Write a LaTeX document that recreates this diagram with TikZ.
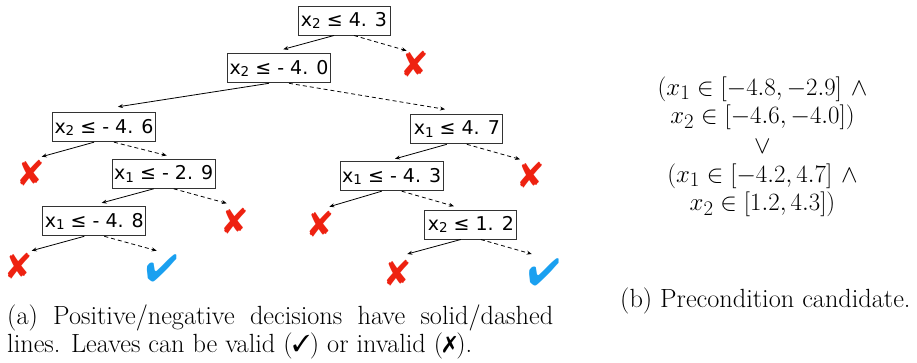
\documentclass[tikz,border=0pt]{standalone}
\usepackage{fontspec}
\usepackage{pifont}
\usetikzlibrary{calc,arrows.meta}
\newfontfamily\treefont{DejaVu Sans}
\definecolor{xred}{HTML}{EE2211}
\definecolor{cblue}{HTML}{1AA0F0}
\definecolor{boxline}{HTML}{333333}
\newcommand{\xsub}[1]{x\raisebox{-2.5pt}{\fontsize{13.5}{14}\selectfont #1}}
\newcommand{\capding}[1]{\raisebox{0.5pt}{\fontsize{23}{23}\selectfont\ding{#1}}}
\begin{document}
\begin{tikzpicture}[x=1pt,y=-1pt,
  testbox/.style={draw=boxline, line width=1pt, inner sep=0pt, minimum height=29pt,
    font=\treefont\fontsize{19}{21}\selectfont},
  shortbox/.style={testbox, minimum width=92pt},
  longbox/.style={testbox, minimum width=103pt},
  leafx/.style={inner sep=0pt, minimum width=24pt, minimum height=28pt, text=xred,
    font=\fontsize{36}{36}\selectfont},
  leafok/.style={inner sep=0pt, minimum width=30pt, minimum height=28pt, text=cblue,
    font=\fontsize{38}{38}\selectfont},
  yesedge/.style={-{Stealth[length=5pt,width=4pt]}, line width=0.8pt},
  noedge/.style={yesedge, dash pattern=on 4pt off 3pt},
  captext/.style={inner sep=0pt, font=\fontsize{26.3}{28}\selectfont},
  formtext/.style={inner sep=0pt, font=\fontsize{29.5}{30}\selectfont},
]
\useasboundingbox (0,0) rectangle (917,362);

% decision nodes
\node[shortbox] (r)   at (344,20.5)  {\xsub{2} ≤ 4. 3};
\node[longbox]  (n40) at (279,68.3)  {\xsub{2} ≤ - 4. 0};
\node[longbox]  (n46) at (104,127.2) {\xsub{2} ≤ - 4. 6};
\node[shortbox] (n47) at (456.8,129.3) {\xsub{1} ≤ 4. 7};
\node[longbox]  (n29) at (163.7,173.8) {\xsub{1} ≤ - 2. 9};
\node[longbox]  (n43) at (391.7,176.2) {\xsub{1} ≤ - 4. 3};
\node[longbox]  (n48) at (94.3,221.3) {\xsub{1} ≤ - 4. 8};
\node[shortbox] (n12) at (470.8,224.5) {\xsub{2} ≤ 1. 2};

% leaves
\node[leafx]  (lr)   at (415,64)      {\ding{56}};
\node[leafx]  (l46)  at (31,173)      {\ding{56}};
\node[leafx]  (l29)  at (235,221)     {\ding{56}};
\node[leafx]  (l48a) at (18.7,266)    {\ding{56}};
\node[leafok] (l48b) at (161.7,268)   {\ding{52}};
\node[leafx]  (l47)  at (531,174.5)   {\ding{56}};
\node[leafx]  (l43)  at (320.5,223.7) {\ding{56}};
\node[leafx]  (l12a) at (397.7,272.5) {\ding{56}};
\node[leafok] (l12b) at (544,272)     {\ding{52}};

% edges
\draw[yesedge] ($(r.south)+(-10,0)$)   -- ($(n40.north)+(4.3,-4)$);
\draw[noedge]  ($(r.south)+(10,0)$)    -- ($(lr.center)+(-8.3,-13.3)$);
\draw[yesedge] ($(n40.south)+(-10,0)$) -- ($(n46.north)+(13.9,-5.4)$);
\draw[noedge]  ($(n40.south)+(10,0)$)  -- ($(n47.north)+(-11.8,-5)$);
\draw[yesedge] ($(n46.south)+(-10,0)$) -- ($(l46.center)+(10.7,-16.3)$);
\draw[noedge]  ($(n46.south)+(10,0)$)  -- ($(n29.north)+(3,-3.3)$);
\draw[yesedge] ($(n29.south)+(-10,0)$) -- ($(n48.north)+(7.4,-3.4)$);
\draw[noedge]  ($(n29.south)+(10,0)$)  -- ($(l29.center)+(-8.3,-17.7)$);
\draw[yesedge] ($(n48.south)+(-10,0)$) -- ($(l48a.center)+(13,-15.3)$);
\draw[noedge]  ($(n48.south)+(10,0)$)  -- ($(l48b.center)+(-5,-17.3)$);
\draw[yesedge] ($(n47.south)+(-10,0)$) -- ($(n43.north)+(3.3,-2.4)$);
\draw[noedge]  ($(n47.south)+(10,0)$)  -- ($(l47.center)+(-11,-15.2)$);
\draw[yesedge] ($(n43.south)+(-10,0)$) -- ($(l43.center)+(8.8,-17)$);
\draw[noedge]  ($(n43.south)+(10,0)$)  -- ($(n12.north)+(-16.8,-3.3)$);
\draw[yesedge] ($(n12.south)+(-10,0)$) -- ($(l12a.center)+(9.6,-18.5)$);
\draw[noedge]  ($(n12.south)+(10,0)$)  -- ($(l12b.center)+(-12.3,-18)$);

% precondition formula
\node[formtext, anchor=base] (f1) at (762.5,95)    {$(x_1 \in [-4.8, -2.9]\ \wedge$};
\node[formtext, anchor=base] (f2) at (762.5,123.5) {$x_2 \in [-4.6, -4.0])$};
\node[formtext, anchor=base] (f3) at (762.5,153)   {$\vee$};
\node[formtext, anchor=base] (f4) at (762.5,182)   {$(x_1 \in [-4.2, 4.7]\ \wedge$};
\node[formtext, anchor=base] (f5) at (762.5,210.5) {$x_2 \in [1.2, 4.3])$};

% captions
\node[captext, anchor=base west, text width=546pt, align=justify] (ca) at (7,324)
  {(a) Positive/negative decisions have solid/dashed\linebreak
   lines. Leaves can be valid (\capding{51}) or invalid (\capding{55}).};
\node[captext, anchor=base west] (cb) at (620,307) {(b) Precondition candidate.};
\end{tikzpicture}
\end{document}
